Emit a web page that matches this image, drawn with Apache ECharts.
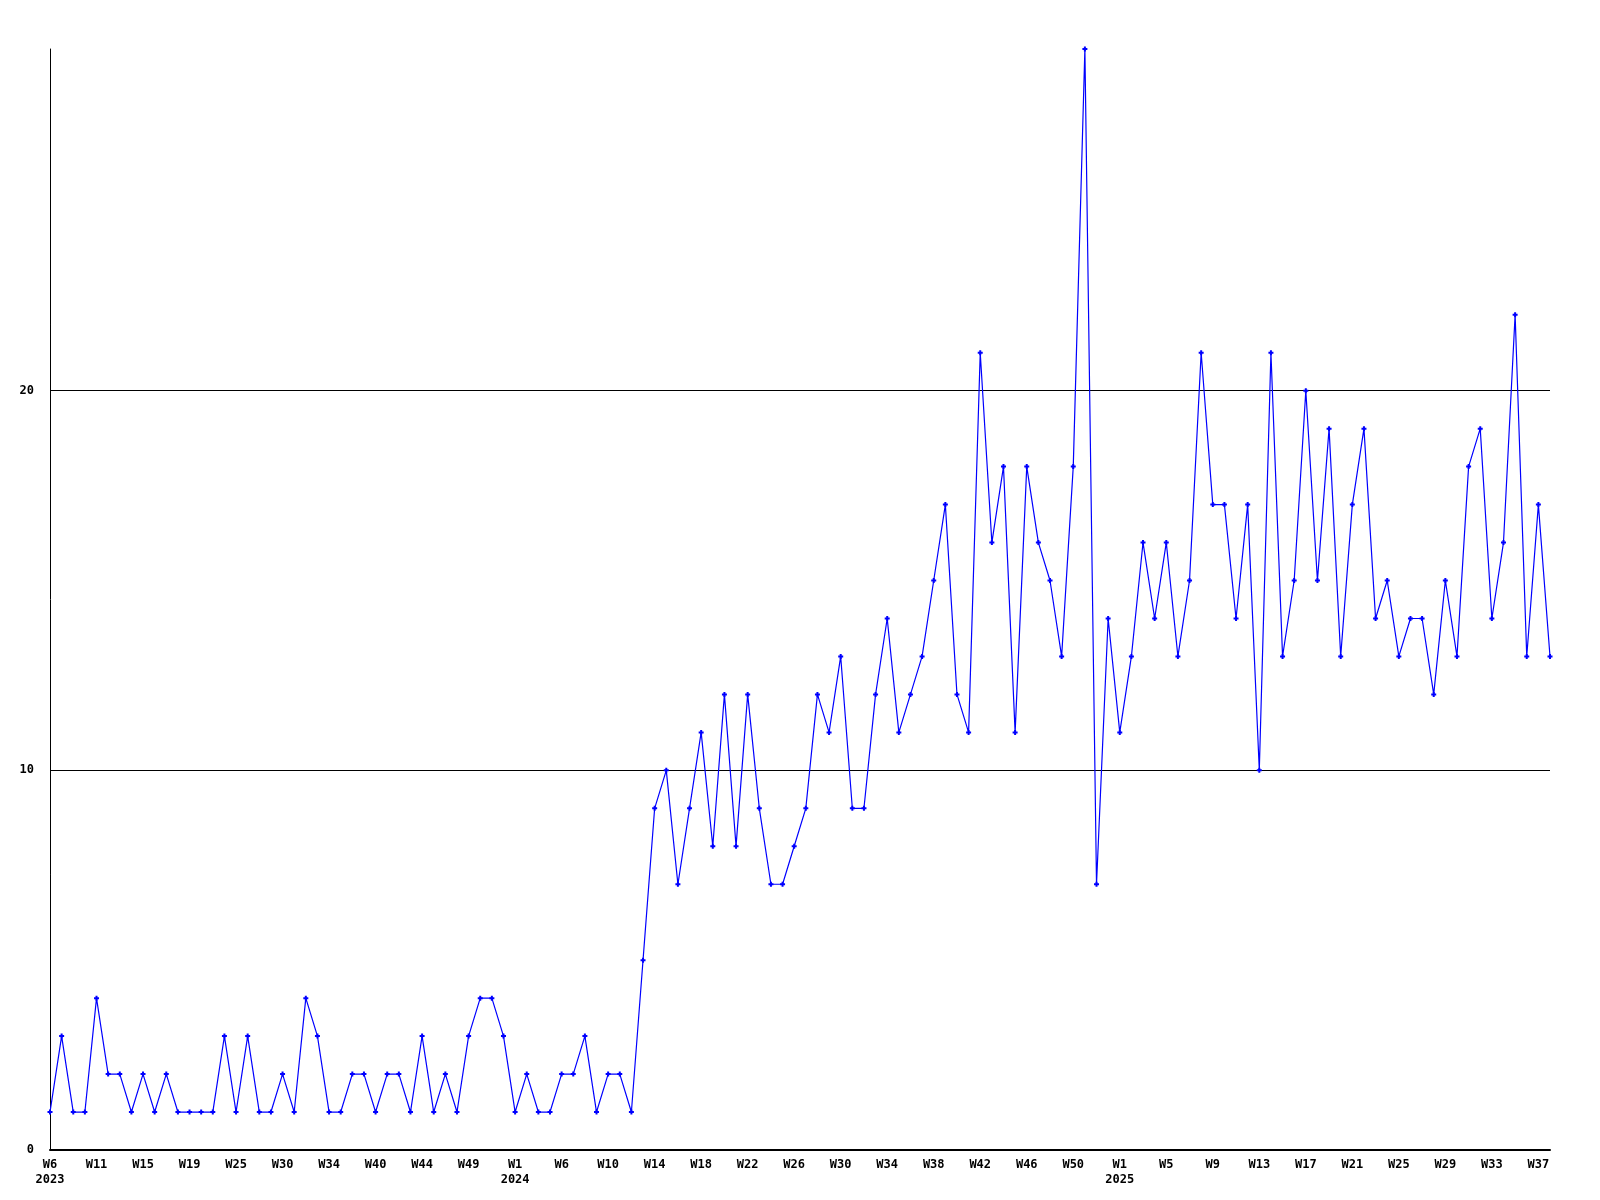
<!DOCTYPE html>
<html>
<head>
<meta charset="utf-8">
<script src="https://cdn.jsdelivr.net/npm/echarts@6/dist/echarts.min.js"></script>
<style>
  html, body { margin: 0; padding: 0; background: #fff; }
  #main { width: 1600px; height: 1200px; }
</style>
</head>
<body>
<div id="main"></div>
<script>
// week numbers per year (some weeks have no data point)
var weeks2023 = [6, 7, 8, 9, 11, 12, 13, 14, 15, 16, 17, 18, 19, 21, 23, 24, 25, 26, 27, 29,
  30, 31, 32, 33, 34, 35, 37, 38, 40, 41, 42, 43, 44, 45, 47, 48, 49, 50, 51, 52]
var weeks2024 = [1, 2, 3, 5, 6, 7, 8, 9, 10, 11, 12, 13, 14, 15, 16, 17, 18, 19, 20, 21,
  22, 23, 24, 25, 26, 27, 28, 29, 30, 31, 32, 33, 34, 35, 36, 37, 38, 39, 40, 41,
  42, 43, 44, 45, 46, 47, 48, 49, 50, 51, 52, 53]
var weeks2025 = [1, 2, 3, 4, 5, 6, 7, 8, 9, 10, 11, 12, 13, 14, 15, 16, 17, 18, 19, 20,
  21, 22, 23, 24, 25, 26, 27, 28, 29, 30, 31, 32, 33, 34, 35, 36, 37, 38]

var values2023 = [1, 3, 1, 1, 4, 2, 2, 1, 2, 1, 2, 1, 1, 1, 1, 3, 1, 3, 1, 1,
  2, 1, 4, 3, 1, 1, 2, 2, 1, 2, 2, 1, 3, 1, 2, 1, 3, 4, 4, 3]
var values2024 = [1, 2, 1, 1, 2, 2, 3, 1, 2, 2, 1, 5, 9, 10, 7, 9, 11, 8, 12, 8,
  12, 9, 7, 7, 8, 9, 12, 11, 13, 9, 9, 12, 14, 11, 12, 13, 15, 17, 12, 11,
  21, 16, 18, 11, 18, 16, 15, 13, 18, 29, 7, 14]
var values2025 = [11, 13, 16, 14, 16, 13, 15, 21, 17, 17, 14, 17, 10, 21, 13, 15, 20, 15, 19, 13,
  17, 19, 14, 15, 13, 14, 14, 12, 15, 13, 18, 19, 14, 16, 22, 13, 17, 13]

var categories = []
var values = []
function addYear(year, weeks, vals) {
  weeks.forEach(function (w, i) {
    categories.push(i === 0 ? 'W' + w + '\n' + year : 'W' + w)
    values.push(vals[i])
  })
}
addYear(2023, weeks2023, values2023)
addYear(2024, weeks2024, values2024)
addYear(2025, weeks2025, values2025)

var labelFont = {
  fontFamily: 'DejaVu Sans Mono',
  fontWeight: 'bold',
  fontSize: 12,
  color: '#000'
}

var myChart = echarts.init(document.getElementById('main'))
var option = {
  animation: false,
  backgroundColor: '#fff',
  grid: { left: 50, right: 50, top: 49, bottom: 50, containLabel: false },
  xAxis: {
    type: 'category',
    data: categories,
    boundaryGap: false,
    axisLine: { show: true, lineStyle: { color: '#000', width: 2 } },
    axisTick: { show: false },
    splitLine: { show: false },
    axisLabel: Object.assign({ interval: 3, margin: 7, lineHeight: 15 }, labelFont)
  },
  yAxis: {
    type: 'value',
    min: 0,
    max: 29,
    interval: 10,
    axisLine: { show: true, lineStyle: { color: '#000', width: 1 } },
    axisTick: { show: false },
    splitLine: { show: true, showMinLine: false, showMaxLine: false, lineStyle: { color: '#000', width: 1 } },
    axisLabel: Object.assign({
      margin: 16,
      formatter: function (v) { return v % 10 === 0 ? String(v) : '' }
    }, labelFont)
  },
  series: [
    {
      type: 'line',
      data: values,
      symbol: 'path://M1.5,0H3.5V1.5H5V3.5H3.5V5H1.5V3.5H0V1.5H1.5Z',
      symbolSize: 5,
      showAllSymbol: true,
      lineStyle: { color: '#0000ff', width: 1.2 },
      itemStyle: { color: '#0000ff' }
    }
  ]
}
myChart.setOption(option)
</script>
</body>
</html>
